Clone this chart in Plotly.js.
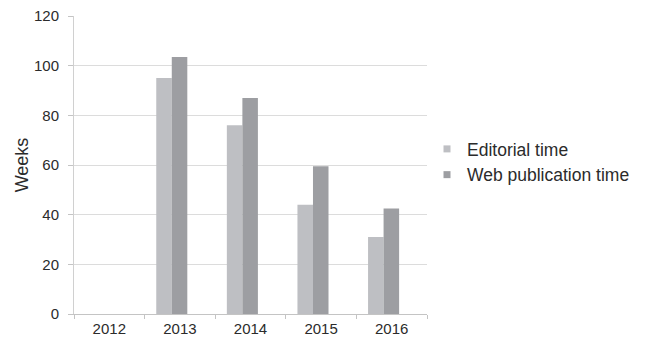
<!DOCTYPE html>
<html>
<head>
<meta charset="utf-8">
<script src="https://cdn.plot.ly/plotly-3.0.1.min.js"></script>
<style>html,body{margin:0;padding:0;background:#fff;}#chart{width:651px;height:340px;}</style>
</head>
<body>
<div id="chart"></div>
<script>
const years = ['2012', '2013', '2014', '2015', '2016'];
const editorialTime = [null, 95, 76, 44, 31];
const webPublicationTime = [null, 103.5, 87, 59.5, 42.5];
const seriesNames = ['Editorial time', 'Web publication time'];
const colors = ['#bebfc3', '#9d9ea2'];

const font = {family: 'Liberation Sans, Arial, sans-serif', color: '#2b2b2b'};

const traces = [
  {type: 'bar', x: years, y: editorialTime, name: seriesNames[0],
   marker: {color: colors[0]}, width: 0.22, offset: -0.335, showlegend: false},
  {type: 'bar', x: years, y: webPublicationTime, name: seriesNames[1],
   marker: {color: colors[1]}, width: 0.22, offset: -0.115, showlegend: false},
  {type: 'scatter', mode: 'markers', x: [null], y: [null], name: seriesNames[0],
   marker: {symbol: 'square', size: 7, color: colors[0]}, hoverinfo: 'skip'},
  {type: 'scatter', mode: 'markers', x: [null], y: [null], name: seriesNames[1],
   marker: {symbol: 'square', size: 7, color: colors[1]}, hoverinfo: 'skip'}
];

const layout = {
  width: 651, height: 340,
  margin: {l: 74, r: 224, t: 16, b: 26},
  paper_bgcolor: '#fff', plot_bgcolor: '#fff',
  font: Object.assign({size: 15}, font),
  showlegend: true,
  barmode: 'group',
  xaxis: {
    type: 'category', categoryorder: 'array', categoryarray: years,
    showgrid: false, zeroline: false,
    showline: true, linecolor: '#c4c4c4', linewidth: 1,
    ticks: 'outside', tickson: 'boundaries', ticklen: 4, tickcolor: '#c4c4c4',
    ticklabelstandoff: 1,
    tickfont: Object.assign({size: 15}, font),
    fixedrange: true
  },
  yaxis: {
    range: [0, 120], tickvals: [0, 20, 40, 60, 80, 100, 120],
    showgrid: true, gridcolor: '#dcdcdc', gridwidth: 1, zeroline: false,
    showline: true, linecolor: '#d0d0d0', linewidth: 1,
    ticks: 'outside', ticklen: 5, tickcolor: '#c4c4c4',
    ticklabelstandoff: 6,
    tickfont: Object.assign({size: 15}, font),
    title: {text: 'Weeks', font: Object.assign({size: 18}, font), standoff: 0},
    fixedrange: true
  },
  legend: {
    x: 1.0, xanchor: 'left', y: 0.51, yanchor: 'middle',
    font: Object.assign({size: 17.5}, font),
    bgcolor: 'rgba(0,0,0,0)', itemwidth: 30, tracegroupgap: 0
  }
};

Plotly.newPlot('chart', traces, layout, {displayModeBar: false, staticPlot: true});
</script>
</body>
</html>
